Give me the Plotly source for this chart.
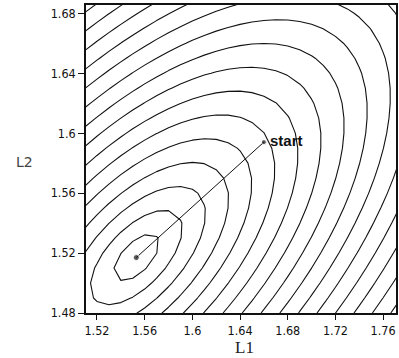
import numpy as np
import plotly.graph_objects as go

# Objective-surface grid (L1 across, L2 up)
l1_grid = np.round(np.arange(1.50, 1.7801, 0.01), 2)
l2_grid = np.round(np.arange(1.47, 1.6901, 0.01), 2)

# Minimum of the surface and the orientation / curvature of its valley
min_l1, min_l2 = 1.553, 1.517
valley_angle_deg = 36.0
curv_major = 1949.0
curv_minor = 8763.0

# Search path from the starting guess down to the minimum
path_l1 = [1.660, 1.553]
path_l2 = [1.594, 1.517]
start_label = "start"

# Contour levels
level_start, level_end, level_step = 1, 20, 1

# Axis ticks
x_ticks = [1.52, 1.56, 1.60, 1.64, 1.68, 1.72, 1.76]
x_ticktext = ["1.52", "1.56", "1.6", "1.64", "1.68", "1.72", "1.76"]
y_ticks = [1.48, 1.52, 1.56, 1.60, 1.64, 1.68]
y_ticktext = ["1.48", "1.52", "1.56", "1.6", "1.64", "1.68"]

# Evaluate the surface on the grid
L1, L2 = np.meshgrid(l1_grid, l2_grid)
th = np.deg2rad(valley_angle_deg)
du, dv = L1 - min_l1, L2 - min_l2
u = np.cos(th) * du + np.sin(th) * dv
v = -np.sin(th) * du + np.cos(th) * dv
Z = np.sqrt(curv_major * u ** 2 + curv_minor * v ** 2)

fig = go.Figure()

fig.add_trace(go.Contour(
    x=l1_grid, y=l2_grid, z=Z,
    contours=dict(coloring="lines", start=level_start, end=level_end, size=level_step),
    colorscale=[[0, "#111"], [1, "#111"]],
    line=dict(width=1.1, smoothing=0),
    showscale=False, hoverinfo="skip",
))

fig.add_trace(go.Scatter(
    x=path_l1, y=path_l2, mode="lines",
    line=dict(color="#111", width=1), hoverinfo="skip", showlegend=False,
))
fig.add_trace(go.Scatter(
    x=path_l1, y=path_l2, mode="markers",
    marker=dict(color="#111", size=[5, 6], symbol="circle"),
    hoverinfo="skip", showlegend=False,
))

fig.add_annotation(
    x=path_l1[0], y=path_l2[0], text=f"<b>{start_label}</b>",
    showarrow=False, xanchor="left", yanchor="middle", xshift=4, yshift=2,
    font=dict(family="Liberation Sans, Arial, sans-serif", size=15, color="#111"),
)

fig.add_annotation(
    xref="paper", yref="paper", x=0.51, y=-0.1445, text="L1",
    showarrow=False, xanchor="center", yanchor="bottom", borderpad=0,
    font=dict(family="Liberation Serif, Times New Roman, serif", size=17, color="#222"),
)
fig.add_annotation(
    xref="paper", yref="paper", x=-0.199, y=0.49, text="L2",
    showarrow=False, xanchor="center", yanchor="middle",
    font=dict(family="DejaVu Sans, sans-serif", size=14, color="#444"),
)

tick_font = dict(family="Liberation Sans Narrow, DejaVu Sans Condensed, Arial Narrow, sans-serif",
                 size=12.5, color="#111")

fig.update_xaxes(
    range=[1.5108, 1.7708], tickvals=x_ticks, ticktext=x_ticktext,
    showgrid=False, zeroline=False, showline=True, linecolor="#111", linewidth=1.5,
    mirror=True, ticks="outside", ticklen=5, tickcolor="#111", tickfont=tick_font,
)
fig.update_yaxes(
    range=[1.48, 1.6855], tickvals=y_ticks, ticktext=y_ticktext,
    showgrid=False, zeroline=False, showline=True, linecolor="#111", linewidth=1.5,
    mirror=True, ticks="outside", ticklen=6, tickcolor="#111", tickfont=tick_font,
)

fig.update_layout(
    width=399, height=358,
    margin=dict(l=86, r=1, t=5, b=45),
    paper_bgcolor="white", plot_bgcolor="white",
    showlegend=False,
)

fig.write_html("out.html")
